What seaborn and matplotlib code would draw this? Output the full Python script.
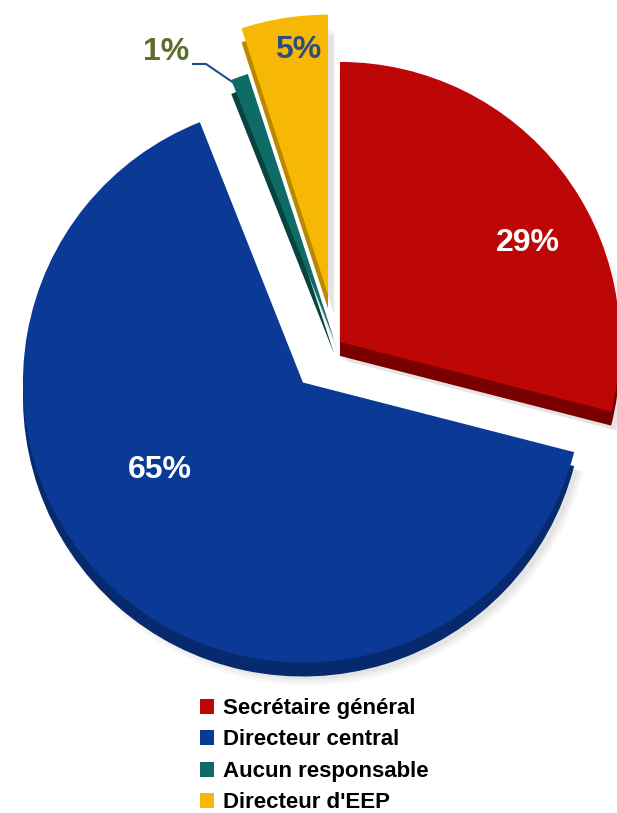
import numpy as np
import matplotlib
matplotlib.use("Agg")
import matplotlib.pyplot as plt
import seaborn as sns

categories = ["Secrétaire général", "Directeur central", "Aucun responsable", "Directeur d'EEP"]
values = [29, 65, 1, 5]
face_colors = ["#BD0606", "#0B3A96", "#0F6B66", "#F7B805"]
side_colors = ["#7A0000", "#072A6E", "#08443F", "#B98800"]
explode_px = [5, 50, 5, 51]

sns.set_theme(style="white")
plt.rcParams["font.family"] = ["Liberation Sans Narrow", "Liberation Sans", "DejaVu Sans"]
plt.rcParams["font.weight"] = "bold"

W, H = 617, 813
fig = plt.figure(figsize=(W / 100, H / 100), dpi=100)
ax = fig.add_axes([0, 0, 1, 1])

R = 280
cx, cy = 336, H - 345
depth = 14

# soft drop shadow
for k, a in enumerate([0.05, 0.07, 0.09]):
    ax.pie(values, colors=["#808080"] * 4, startangle=90, counterclock=False,
           explode=explode_px, radius=R + 4 - 3 * k, center=(cx + 6, cy - depth - 5),
           wedgeprops=dict(linewidth=0, alpha=a))

# side walls of the slab
ax.pie(values, colors=side_colors, startangle=90, counterclock=False,
       explode=explode_px, radius=R, center=(cx, cy - depth),
       wedgeprops=dict(linewidth=0))

# top faces
wedges, _ = ax.pie(values, colors=face_colors, startangle=90, counterclock=False,
                   explode=explode_px, radius=R, center=(cx, cy),
                   wedgeprops=dict(linewidth=0))

ax.set_xlim(0, W)
ax.set_ylim(0, H)
ax.set_aspect("auto")
ax.axis("off")

def Y(y):
    return H - y

pct = [f"{v}%" for v in values]
fs = 23
ax.text(528, Y(243), pct[0], color="white", fontsize=fs, fontweight="bold",
        ha="center", va="center")
ax.text(160, Y(470), pct[1], color="white", fontsize=fs, fontweight="bold",
        ha="center", va="center")
ax.text(298, Y(50), pct[3], color="#2E4D7C", fontsize=fs, fontweight="bold",
        ha="center", va="center")
ax.text(166, Y(52), pct[2], color="#5B6E2B", fontsize=fs, fontweight="bold",
        ha="center", va="center")

# leader line from the 1% label to its slice
tw = wedges[2]
ang = np.deg2rad((tw.theta1 + tw.theta2) / 2)
tip = (tw.center[0] + tw.r * 0.95 * np.cos(ang), tw.center[1] + tw.r * 0.95 * np.sin(ang))
ax.plot([192, 206, tip[0]], [Y(64), Y(64), tip[1]], color="#1F4E8C", lw=1.5,
        solid_capstyle="butt", zorder=0.5)

leg = ax.legend(wedges, categories, loc="upper left",
                bbox_to_anchor=(200 / W, 1 - 698 / H), frameon=False,
                fontsize=16, handlelength=0.65, handleheight=0.65,
                handletextpad=0.4, labelspacing=0.47, borderaxespad=0,
                borderpad=0)
for t in leg.get_texts():
    t.set_fontweight("bold")
    t.set_color("black")

fig.savefig("out.png", dpi=100, facecolor="white")
